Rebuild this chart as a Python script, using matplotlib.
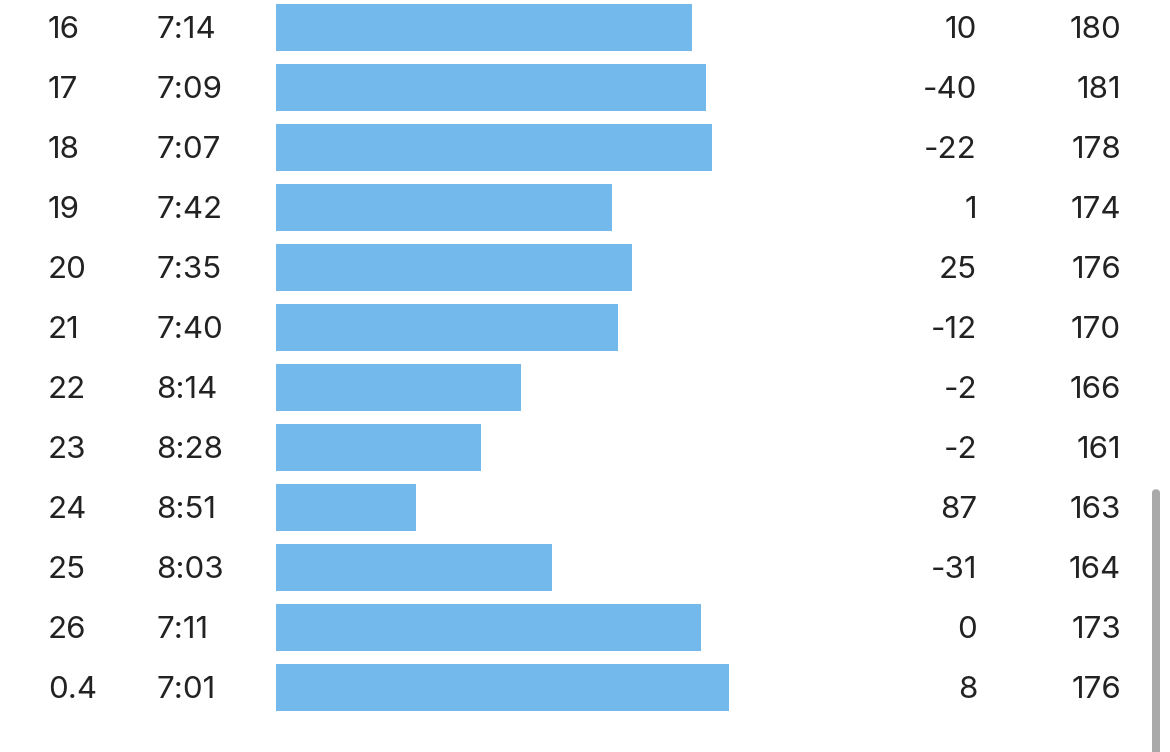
import matplotlib
matplotlib.use('Agg')
import matplotlib.pyplot as plt
from matplotlib.patches import FancyBboxPatch
import matplotlib.transforms as mtransforms

km = ['16', '17', '18', '19', '20', '21', '22', '23', '24', '25', '26', '0.4']
pace = ['7:14', '7:09', '7:07', '7:42', '7:35', '7:40', '8:14', '8:28', '8:51', '8:03', '7:11', '7:01']
elev = [10, -40, -22, 1, 25, -12, -2, -2, 87, -31, 0, 8]
cadence = [180, 181, 178, 174, 176, 170, 166, 161, 163, 164, 173, 176]

# bar length = how much faster than the slow reference pace (seconds)
slow_ref = 580
pace_sec = [int(p.split(':')[0]) * 60 + int(p.split(':')[1]) for p in pace]
bar_len = [slow_ref - s for s in pace_sec]

W, H = 1170, 752
fig = plt.figure(figsize=(W / 100, H / 100), dpi=100)
fig.patch.set_facecolor('white')

# bar area: starts at x=276px, 2.85 px per second
x0 = 276
scale = 2.85
ax = fig.add_axes([x0 / W, 0, (W - x0) / W, 1])
ax.set_xlim(0, (W - x0) / scale)
row_h = 60
ax.set_ylim((H - 27) / row_h, -27 / row_h)
ax.axis('off')

rows = list(range(len(km)))
ax.barh(rows, bar_len, height=47 / row_h, left=0, color='#74b9ec', edgecolor='none')

txt_color = '#222222'
fs = 22.5
base = 11 / row_h  # baseline offset below row centre
trans = mtransforms.blended_transform_factory(fig.transFigure, ax.transData)
for i in rows:
    y = i + base
    ax.text(48 / W, y, km[i], transform=trans, ha='left', va='baseline',
            fontsize=fs, color=txt_color, family='Inter')
    ax.text(156 / W, y, pace[i], transform=trans, ha='left', va='baseline',
            fontsize=fs, color=txt_color, family='Inter')
    ax.text(977 / W, y, str(elev[i]), transform=trans, ha='right', va='baseline',
            fontsize=fs, color=txt_color, family='Inter')
    ax.text(1121 / W, y, str(cadence[i]), transform=trans, ha='right', va='baseline',
            fontsize=fs, color=txt_color, family='Inter')

# scrollbar
sb = FancyBboxPatch((1152 / W, -0.05), 8 / W, (H - 489) / H + 0.05,
                    boxstyle='round,pad=0,rounding_size=0.005',
                    transform=fig.transFigure, facecolor='#a9a9a9',
                    edgecolor='none', clip_on=False)
fig.patches.append(sb)

fig.savefig('out.png', dpi=100)
